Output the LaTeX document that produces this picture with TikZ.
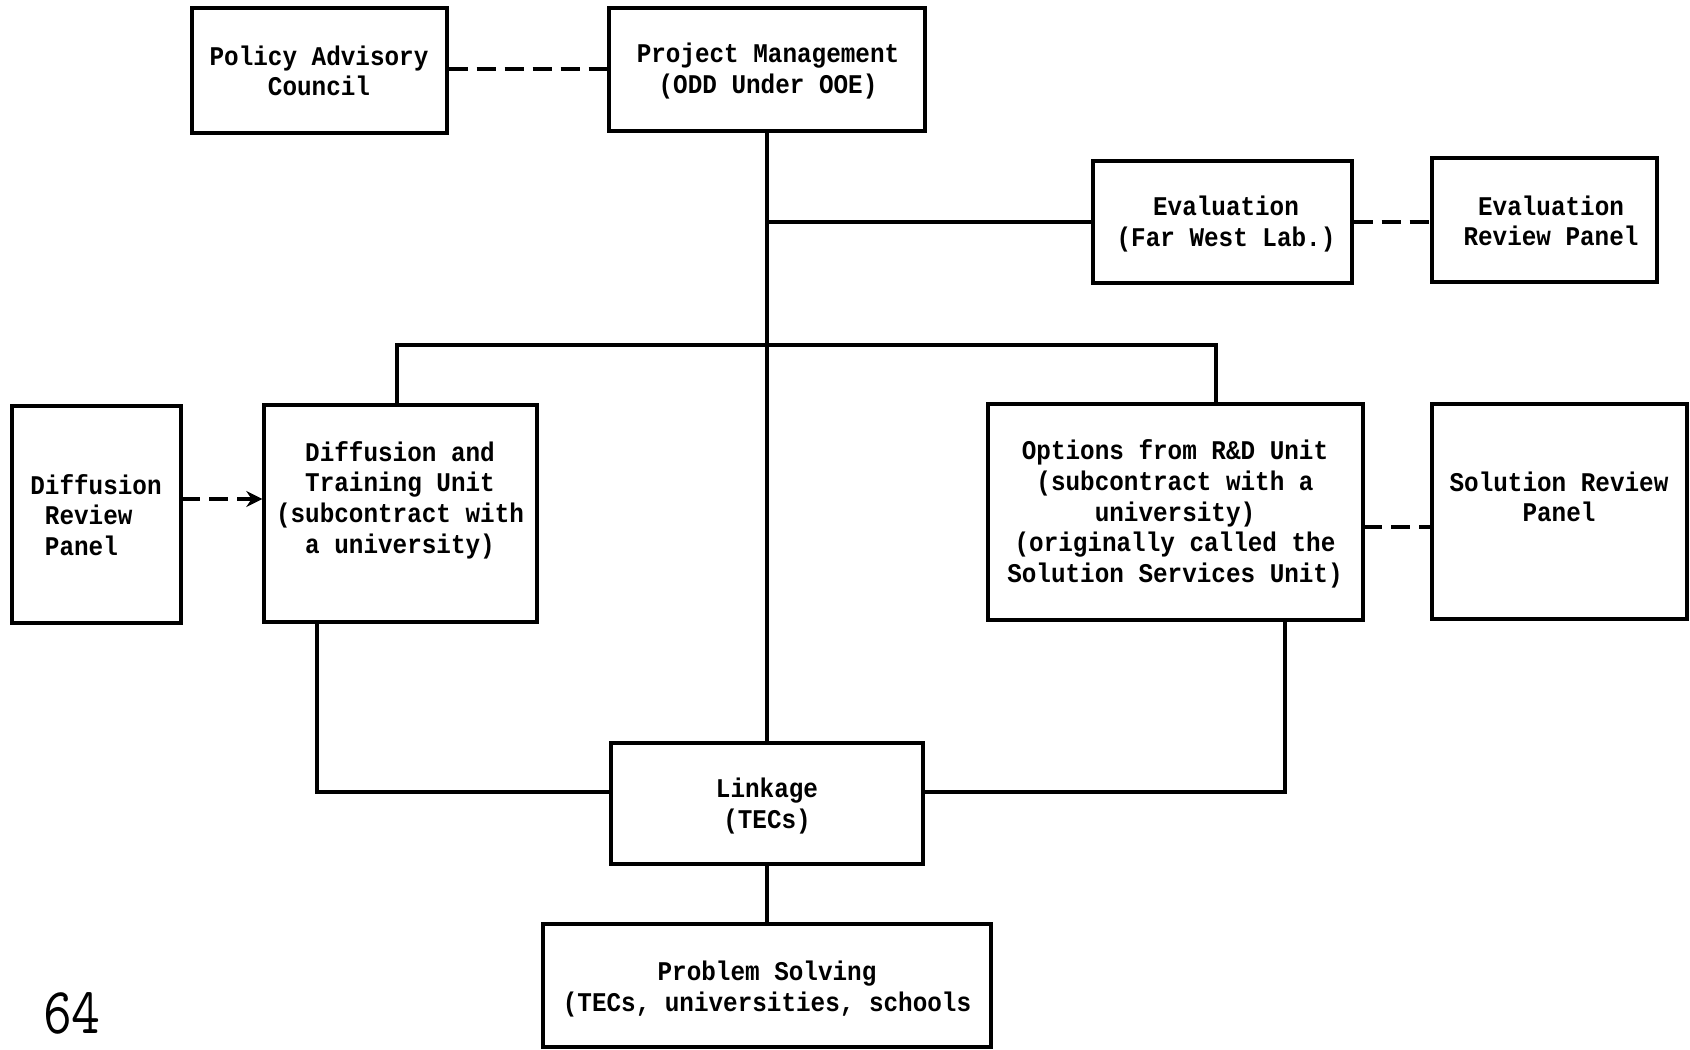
\documentclass[tikz,border=0pt]{standalone}
\usepackage{fontspec}
\usepackage{graphicx}
\newfontfamily\boxfont[FakeStretch=0.9]{Liberation Mono}
\usetikzlibrary{fit,arrows.meta}
\begin{document}
\begin{tikzpicture}[x=0.5pt,y=-0.5pt,
  box/.style={draw, line width=1.7pt, inner sep=0pt},
  lbl/.style={font=\boxfont\bfseries\fontsize{13.5}{15.3}\selectfont, align=center, inner sep=0pt},
  link/.style={line width=1.6pt},
  dlink/.style={line width=2pt, dash pattern=on 9.5pt off 4.5pt}]
\useasboundingbox[fill=white] (0,0) rectangle (1690,1049);

% boxes
\node[box,fit={(192,8)(447,133)}] (pac) {};
\node[box,fit={(609,8)(925,131)}] (pm) {};
\node[box,fit={(1093,161)(1352,283)}] (eval) {};
\node[box,fit={(1432,158)(1657,282)}] (erp) {};
\node[box,fit={(12,406)(181,623)}] (drp) {};
\node[box,fit={(264,405)(537,622)}] (dtu) {};
\node[box,fit={(988,404)(1363,620)}] (opt) {};
\node[box,fit={(1432,404)(1687,619)}] (srp) {};
\node[box,fit={(611,743)(923,864)}] (lk) {};
\node[box,fit={(543,924)(991,1047)}] (prob) {};

% texts
\node[lbl] (pactext) at (319,71) {Policy Advisory\\Council};
\node[lbl] (pmtext) at (768,71) {Project Management\\(ODD Under OOE)};
\node[lbl] (evaltext) at (1226,224) {Evaluation\\(Far West Lab.)};
\node[lbl] (erptext) at (1551,221) {Evaluation\\Review Panel};
\node[lbl,align=left] (drptext) at (96,515) {Diffusion\\\hphantom{x}Review\\\hphantom{x}Panel};
\node[lbl] (dtutext) at (400,500) {Diffusion and\\Training Unit\\(subcontract with\\a university)};
\node[lbl] (opttext) at (1175,514) {Options from R\&D Unit\\(subcontract with a\\university)\\(originally called the\\Solution Services Unit)};
\node[lbl] (srptext) at (1559,497) {Solution Review\\Panel};
\node[lbl] (lktext) at (767,806) {Linkage\\(TECs)};
\node[lbl] (probtext) at (767,989) {Problem Solving\\(TECs, universities, schools};
\node[font=\ttfamily\fontsize{28}{28}\selectfont, inner sep=0pt] (pagenum) at (72,1013) {\scalebox{1}[1.17]{64}};

% junction coordinates
\coordinate (evalJ) at (767,222);
\coordinate (dtuTop) at (397,405);
\coordinate (optTop) at (1216,404);
\coordinate (dtuBot) at (317,622);
\coordinate (optBot) at (1285,620);
\coordinate (lkW) at (611,792);
\coordinate (lkE) at (923,792);
\coordinate (drpE) at (181,499);
\coordinate (optE) at (1363,527);

% solid connectors
\draw[link] (pm.south) -- (lk.north);
\draw[link] (evalJ) -- (evalJ -| eval.west);
\draw[link] (dtuTop) -- (397,345) -- (1216,345) -- (optTop);
\draw[link] (dtuBot) |- (lkW);
\draw[link] (optBot) |- (lkE);
\draw[link] (lk.south) -- (prob.north);

% dashed connectors
\draw[dlink] (pac.east |- 0,69) -- (pm.west |- 0,69);
\draw[dlink] (eval.east |- 0,222) -- (erp.west |- 0,222);
\draw[dlink,-{Stealth[length=8pt,width=8pt]}] (drpE) -- (drpE -| dtu.west);
\draw[dlink] (optE) -- (optE -| srp.west);
\end{tikzpicture}
\end{document}
